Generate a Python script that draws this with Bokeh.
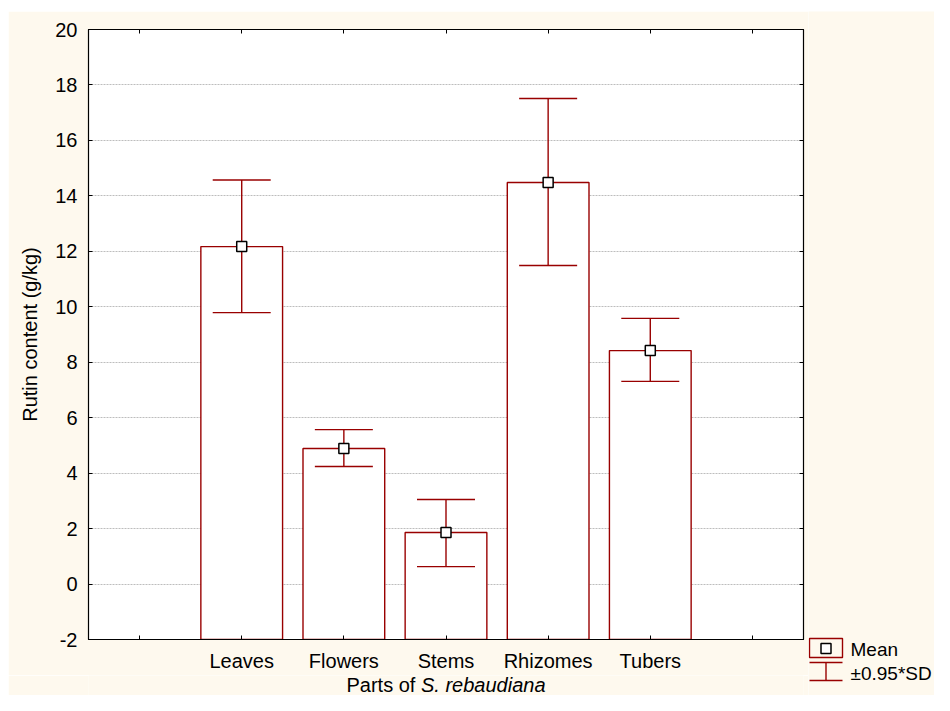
from bokeh.plotting import figure
from bokeh.models import Range1d, FixedTicker, LinearAxis, Spacer
from bokeh.layouts import row, column
from bokeh.embed import file_html
from bokeh.resources import INLINE
from bokeh.core.properties import value

# ---- data ----
categories = ["Leaves", "Flowers", "Stems", "Rhizomes", "Tubers"]
means = [12.17, 4.89, 1.86, 14.48, 8.42]
upper = [14.57, 5.57, 3.05, 17.51, 9.58]
lower = [9.79, 4.24, 0.63, 11.49, 7.31]
y_ticks = [-2, 0, 2, 4, 6, 8, 10, 12, 14, 16, 18, 20]
y_title = "Rutin content (g/kg)"
x_title_plain = "Parts of"
x_title_italic = "S. rebaudiana"
legend_labels = ["Mean", "\u00b10.95*SD"]

# ---- style ----
FONT = "Liberation Sans"
CREAM = "#FEF9EE"
RED = "#990000"
FS = "20px"

n = len(categories)
pos = [i + 1.5 for i in range(n)]
x_ticks = [i + 0.5 for i in range(n + 2)]
overrides = {t: "" for t in x_ticks}
for c, x in zip(categories, pos):
    overrides[x] = c
y_overrides = {t: str(t) for t in y_ticks}

p = figure(width=800, height=664, x_range=Range1d(0, n + 2), y_range=Range1d(y_ticks[0], y_ticks[-1]),
           output_backend="svg", toolbar_location=None, title=None,
           min_border_left=80, min_border_right=5, min_border_top=18, min_border_bottom=36)
p.background_fill_color = "white"
p.border_fill_color = CREAM
p.outline_line_color = "black"
p.outline_line_width = 1.2

p.xgrid.visible = False
p.ygrid.ticker = FixedTicker(ticks=y_ticks)
p.ygrid.grid_line_color = "#bdbdbd"
p.ygrid.grid_line_dash = "2 1"
p.ygrid.grid_line_width = 1

# bottom axis
xa = p.xaxis[0]
xa.ticker = FixedTicker(ticks=x_ticks)
xa.major_label_overrides = overrides
xa.major_tick_in = 4
xa.major_tick_out = 0
xa.minor_tick_line_color = None
xa.axis_line_color = "black"
xa.major_tick_line_color = "black"
xa.major_label_text_font = FONT
xa.major_label_text_font_size = FS
xa.major_label_text_color = "black"
xa.major_label_standoff = 10

# left axis
ya = p.yaxis[0]
ya.ticker = FixedTicker(ticks=y_ticks)
ya.major_label_overrides = y_overrides
ya.major_tick_in = 4
ya.major_tick_out = 0
ya.minor_tick_line_color = None
ya.axis_line_color = "black"
ya.major_tick_line_color = "black"
ya.major_label_text_font = FONT
ya.major_label_text_font_size = FS
ya.major_label_text_color = "black"
ya.major_label_standoff = 11
ya.axis_label = y_title
ya.axis_label_text_font = FONT
ya.axis_label_text_font_size = FS
ya.axis_label_text_font_style = "normal"
ya.axis_label_text_color = "black"
ya.axis_label_standoff = 11

# top & right axes (inner ticks only, labels not drawn)
top = LinearAxis(ticker=FixedTicker(ticks=x_ticks), major_label_text_font_size="1px",
                 major_label_text_color=None,
                 major_tick_in=4, major_tick_out=0, major_label_standoff=0,
                 minor_tick_line_color=None, axis_line_color="black")
right = LinearAxis(ticker=FixedTicker(ticks=y_ticks), major_label_text_font_size="1px",
                   major_label_text_color=None,
                   major_tick_in=4, major_tick_out=0, major_label_standoff=0,
                   minor_tick_line_color=None, axis_line_color="black")
p.add_layout(top, "above")
p.add_layout(right, "right")

# bars
p.vbar(x=pos, top=means, bottom=y_ticks[0], width=0.8, fill_color="white",
       line_color=RED, line_width=1.4)
# error bars
p.segment(x0=pos, y0=lower, x1=pos, y1=upper, line_color=RED, line_width=1.4)
p.scatter(x=pos, y=upper, marker="dash", size=58, line_color=RED, line_width=1.4)
p.scatter(x=pos, y=lower, marker="dash", size=58, line_color=RED, line_width=1.4)
# means
p.scatter(x=pos, y=means, marker="square", size=10, fill_color="white",
          line_color="black", line_width=1.5)

# ---- x axis title strip (mixed italic); its frame aligns with the main frame ----
tfig = figure(width=800, height=20, x_range=Range1d(0, 715), y_range=Range1d(20, 0),
              output_backend="svg", toolbar_location=None, title=None,
              min_border_left=80, min_border_right=5, min_border_top=0, min_border_bottom=0,
              x_axis_type=None, y_axis_type=None)
tfig.outline_line_color = None
tfig.background_fill_color = CREAM
tfig.border_fill_color = CREAM
tfig.text(x=[258], y=[9.5], text=[x_title_plain], text_font=value(FONT), text_font_size=FS,
          text_align="left", text_baseline="middle", text_color="black")
tfig.text(x=[332.5], y=[9.5], text=[x_title_italic], text_font=value(FONT), text_font_size=FS,
          text_font_style="italic", text_align="left", text_baseline="middle",
          text_color="black")

# ---- legend panel ----
leg = figure(frame_width=126, frame_height=684, x_range=Range1d(0, 126), y_range=Range1d(684, 0),
             output_backend="svg", toolbar_location=None, min_border=0, title=None,
             x_axis_type=None, y_axis_type=None)
leg.outline_line_color = None
leg.background_fill_color = CREAM
leg.border_fill_color = CREAM
leg.quad(left=[1], right=[34], top=[627], bottom=[646], fill_color=None,
         line_color=RED, line_width=1.4)
leg.scatter(x=[17.5], y=[637], marker="square", size=10, fill_color="white",
            line_color="black", line_width=1.5)
leg.segment(x0=[1, 1, 17.5], y0=[651, 669, 651], x1=[34, 34, 17.5], y1=[651, 669, 669],
            line_color=RED, line_width=1.4)
leg.text(x=[42, 42], y=[637.5, 661.5], text=legend_labels, text_font=value(FONT),
         text_font_size="19px", text_baseline="middle", text_align="left", text_color="black")

layout = column(Spacer(height=11, width=934),
                row(Spacer(width=8, height=684), column(p, tfig), leg))
open("out.html", "w").write(file_html(layout, INLINE))
